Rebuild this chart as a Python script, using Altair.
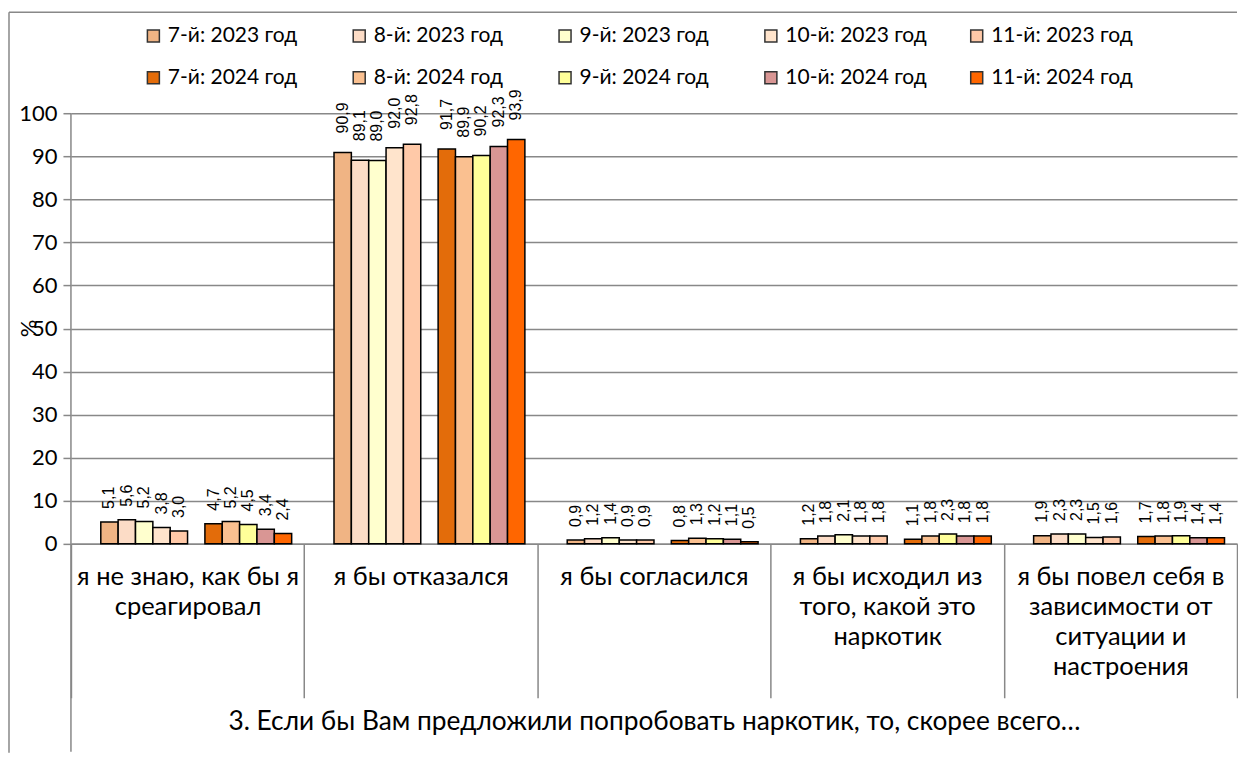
import altair as alt
import pandas as pd

categories = [
    "я не знаю, как бы я\nсреагировал",
    "я бы отказался",
    "я бы согласился",
    "я бы исходил из\nтого, какой это\nнаркотик",
    "я бы повел себя в\nзависимости от\nситуации и\nнастроения",
]

series = [
    "7-й: 2023 год", "8-й: 2023 год", "9-й: 2023 год", "10-й: 2023 год", "11-й: 2023 год",
    "7-й: 2024 год", "8-й: 2024 год", "9-й: 2024 год", "10-й: 2024 год", "11-й: 2024 год",
]

colors = [
    "#F0B484", "#FCDCC6", "#FFFFCE", "#FFE4CC", "#FFC9A8",
    "#E36C0A", "#FAC090", "#FFFF99", "#D99694", "#FF6600",
]

v7_2023 = [5.1, 90.9, 0.9, 1.2, 1.9]
v8_2023 = [5.6, 89.1, 1.2, 1.8, 2.3]
v9_2023 = [5.2, 89.0, 1.4, 2.1, 2.3]
v10_2023 = [3.8, 92.0, 0.9, 1.8, 1.5]
v11_2023 = [3.0, 92.8, 0.9, 1.8, 1.6]
v7_2024 = [4.7, 91.7, 0.8, 1.1, 1.7]
v8_2024 = [5.2, 89.9, 1.3, 1.8, 1.8]
v9_2024 = [4.5, 90.2, 1.2, 2.3, 1.9]
v10_2024 = [3.4, 92.3, 1.1, 1.8, 1.4]
v11_2024 = [2.4, 93.9, 0.5, 1.8, 1.4]

all_values = [v7_2023, v8_2023, v9_2023, v10_2023, v11_2023,
              v7_2024, v8_2024, v9_2024, v10_2024, v11_2024]

y_ticks = list(range(0, 101, 10))
x_title = "3. Если бы Вам предложили попробовать наркотик, то, скорее всего…"

rows = []
for s, vals in zip(series, all_values):
    for c, v in zip(categories, vals):
        rows.append({"cat": c, "series": s, "value": v,
                     "label": f"{v:.1f}".replace(".", ",")})
df = pd.DataFrame(rows)

offset_domain = ["_a"] + series[:5] + ["_b"] + series[5:]

W = 1167
H = 431
GRAY = "#888888"

x_enc = alt.X("cat:N", sort=categories,
              scale=alt.Scale(paddingInner=0, paddingOuter=0),
              axis=alt.Axis(
                  title=x_title, titleFont="Lato", titleFontSize=26.3,
                  titleFontWeight="normal", titleColor="black",
                  titleY=178, titleBaseline="middle",
                  domain=True, domainColor=GRAY, domainWidth=1.5,
                  ticks=True, tickBand="extent", tickSize=154,
                  tickColor=GRAY, tickWidth=1.5,
                  labelExpr="split(datum.label, '\\n')",
                  labelFont="Lato", labelFontSize=25.5, labelLineHeight=30,
                  labelColor="black", labelPadding=-133, labelBaseline="top",
                  labelAngle=0, labelLimit=400, labelOverlap=False,
                  labelFlush=False, grid=False))
xo_enc = alt.XOffset("series:N",
                     scale=alt.Scale(domain=offset_domain, paddingInner=0,
                                     paddingOuter=0.72))
y_enc = alt.Y("value:Q", scale=alt.Scale(domain=[0, 100]),
              axis=alt.Axis(
                  values=y_ticks, title="%", titleFont="Lato",
                  titleFontSize=22, titleFontWeight="normal",
                  titleColor="black", titleX=-30, titleY=215,
                  domain=False, ticks=True, tickSize=8, tickColor=GRAY,
                  tickWidth=1.5, grid=True, gridColor=GRAY, gridWidth=1.5,
                  labelFont="Lato", labelFontSize=22, labelColor="black",
                  labelPadding=6))

base = alt.Chart(df)

bars = base.mark_bar(stroke="black", strokeWidth=1.5).encode(
    x=x_enc, xOffset=xo_enc, y=y_enc,
    color=alt.Color("series:N", sort=series,
                    scale=alt.Scale(domain=series, range=colors),
                    legend=alt.Legend(
                        title=None, orient="none", legendX=72, legendY=-88,
                        columns=5, direction="horizontal", symbolType="square",
                        symbolSize=144, symbolStrokeColor="#333333",
                        symbolStrokeWidth=1.5, labelFont="Lato",
                        labelFontSize=21, labelColor="black", labelOffset=4,
                        gridAlign="all", columnPadding=39, rowPadding=20,
                        labelLimit=300)),
)

labels_small = base.transform_filter("datum.value < 10").mark_text(
    angle=270, align="left", baseline="middle", dx=13,
    font="Liberation Sans", fontSize=16, color="black").encode(
    x=x_enc, xOffset=xo_enc, y=y_enc, text="label:N")

labels_big = base.transform_filter("datum.value >= 10").mark_text(
    angle=270, align="left", baseline="middle", dx=19,
    font="Liberation Sans", fontSize=16, color="black").encode(
    x=x_enc, xOffset=xo_enc, y=y_enc, text="label:N")

one = pd.DataFrame({"k": [0]})
yline = alt.Chart(one).mark_rule(color=GRAY, strokeWidth=1.5).encode(
    x=alt.value(0), y=alt.value(0), y2=alt.value(639))
left_border = alt.Chart(one).mark_rule(color=GRAY, strokeWidth=1.5).encode(
    x=alt.value(-62), y=alt.value(-101), y2=alt.value(640))
top_border = alt.Chart(one).mark_rule(color=GRAY, strokeWidth=1.5).encode(
    x=alt.value(-62), x2=alt.value(W), y=alt.value(-101))

chart = alt.layer(bars, labels_small, labels_big, yline, left_border,
                  top_border).properties(
    width=W, height=H,
    padding={"top": 3, "left": 0, "right": 0, "bottom": 0},
    background="white",
).configure_view(stroke=None)

chart.save("out.html", embed_options={"renderer": "svg", "actions": False})
